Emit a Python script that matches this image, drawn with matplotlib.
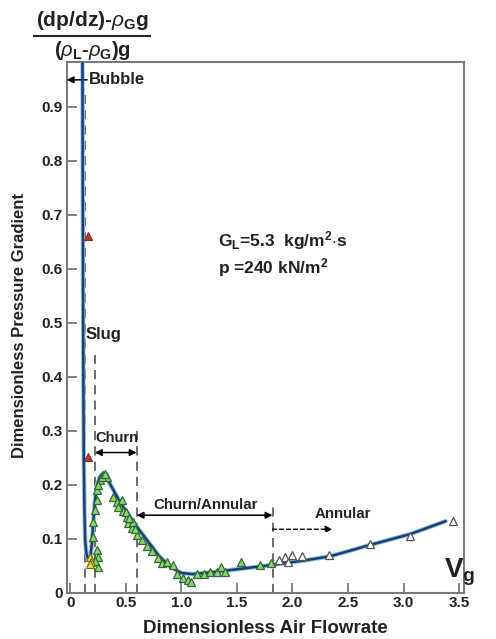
import matplotlib
matplotlib.use("Agg")
import matplotlib.pyplot as plt
import numpy as np

plt.rcParams['font.family'] = ['Liberation Sans', 'DejaVu Sans']
plt.rcParams['mathtext.fontset'] = 'custom'
plt.rcParams['mathtext.rm'] = 'Liberation Sans'
plt.rcParams['mathtext.bf'] = 'Liberation Sans:bold'
plt.rcParams['mathtext.it'] = 'Liberation Sans:italic'

# ---- data ----
curve_x = [0.108, 0.110, 0.113, 0.116, 0.120, 0.126, 0.132, 0.140, 0.152, 0.165, 0.180,
           0.192, 0.205, 0.220, 0.240, 0.265, 0.295, 0.340, 0.450, 0.600, 0.700, 0.800, 0.900,
           1.000, 1.100, 1.300, 1.500, 1.820, 2.100, 2.340, 2.700, 3.060, 3.380]
curve_y = [1.000, 0.800, 0.600, 0.400, 0.250, 0.150, 0.100, 0.078, 0.066, 0.063, 0.068,
           0.090, 0.130, 0.170, 0.200, 0.215, 0.222, 0.208, 0.167, 0.122, 0.095, 0.068, 0.048,
           0.037, 0.035, 0.039, 0.044, 0.052, 0.060, 0.068, 0.089, 0.109, 0.133]

green_x = [0.236, 0.250, 0.250, 0.205, 0.205, 0.220, 0.236, 0.236, 0.266, 0.296, 0.326, 0.386,
           0.416, 0.460, 0.476, 0.506, 0.520, 0.550, 0.566, 0.596, 0.640, 0.686, 0.730, 0.790,
           0.820, 0.926, 0.957, 1.016, 1.060, 1.090, 1.137, 1.200, 1.257, 1.317, 1.360, 1.390,
           1.540, 1.710, 1.810, 0.245, 0.280, 0.310, 0.430, 0.500, 0.530, 0.580, 0.225, 0.870]
green_y = [0.080, 0.067, 0.049, 0.104, 0.132, 0.154, 0.172, 0.190, 0.209, 0.218, 0.215, 0.178,
           0.169, 0.172, 0.151, 0.141, 0.129, 0.120, 0.132, 0.107, 0.098, 0.087, 0.077, 0.064,
           0.055, 0.052, 0.036, 0.027, 0.024, 0.021, 0.036, 0.036, 0.039, 0.039, 0.049, 0.039,
           0.058, 0.052, 0.055, 0.200, 0.214, 0.220, 0.160, 0.150, 0.138, 0.118, 0.060, 0.058]

open_x = [1.880, 1.930, 1.960, 2.000, 2.090, 2.330, 2.700, 3.060, 3.450]
open_y = [0.061, 0.066, 0.058, 0.070, 0.068, 0.070, 0.090, 0.106, 0.133]

red_x = [0.160, 0.160]
red_y = [0.660, 0.252]

yellow_x = [0.180, 0.185, 0.180]
yellow_y = [0.067, 0.058, 0.054]

xticks = [0, 0.5, 1.0, 1.5, 2.0, 2.5, 3.0, 3.5]
xticklabels = ['0', '0.5', '1.0', '1.5', '2.0', '2.5', '3.0', '3.5']
yticks = [0, 0.1, 0.2, 0.3, 0.4, 0.5, 0.6, 0.7, 0.8, 0.9]
yticklabels = ['0', '0.1', '0.2', '0.3', '0.4', '0.5', '0.6', '0.7', '0.8', '0.9']

# ---- figure ----
W, H = 496, 639
fig = plt.figure(figsize=(W / 100, H / 100), dpi=100)
ax = fig.add_axes([66.7 / W, 1 - 593 / H, (464 - 66.7) / W, (593 - 62) / H])
ax.set_xlim(-0.034, 3.545)
ax.set_ylim(0, 0.983)

gray = '#7a7a7a'
for s in ax.spines.values():
    s.set_color(gray)
    s.set_linewidth(1.5)

ax.set_xticks(xticks)
ax.set_xticklabels(xticklabels)
ax.set_yticks(yticks)
ax.set_yticklabels(yticklabels)
ax.tick_params(direction='in', length=7, width=1.3, color=gray, pad=3,
               labelsize=11, labelcolor='#222222')
ax.tick_params(axis='x', pad=2)
for lab in ax.get_xticklabels() + ax.get_yticklabels():
    lab.set_fontweight('bold')

ax.set_xlabel('Dimensionless Air Flowrate', fontsize=13.5, fontweight='bold',
              color='#222222')
ax.xaxis.set_label_coords(0.5, -(620 - 593) / (593 - 62), transform=ax.transAxes)
ax.set_ylabel('Dimensionless Pressure Gradient', fontsize=12, fontweight='bold',
              color='#222222')
ax.yaxis.set_label_coords(-(66.7 - 27) / (464 - 66.7), (593 - 326) / (593 - 62),
                          transform=ax.transAxes)

# curve
ax.plot(curve_x, curve_y, color='#8fc3e8', lw=3.2, zorder=3, solid_capstyle='round')
ax.plot(curve_x, curve_y, color='#1d3d70', lw=1.8, zorder=4, solid_capstyle='round')

# markers
ax.plot(green_x, green_y, linestyle='none', marker='^', ms=5.5, mfc='#8fd46a',
        mec='#2f6b3a', mew=0.9, zorder=5)
ax.plot(open_x, open_y, linestyle='none', marker='^', ms=5.5, mfc='white',
        mec='#555555', mew=0.9, zorder=5)
ax.plot(red_x, red_y, linestyle='none', marker='^', ms=5.5, mfc='#b03a30',
        mec='#8a2a25', mew=0.8, zorder=5)
ax.plot(yellow_x, yellow_y, linestyle='none', marker='^', ms=5.5, mfc='#e8d838',
        mec='#6a6a20', mew=0.8, zorder=5)

# dashed regime boundaries
dash = dict(color='#444444', lw=1.1, linestyles=(0, (6, 4)), zorder=2)
ax.vlines(0.135, 0, 0.93, **dash)
ax.vlines(0.22, 0, 0.44, **dash)
ax.vlines(0.596, 0, 0.30, **dash)
ax.vlines(1.82, 0, 0.168, **dash)

# arrows
ax.annotate('', xy=(-0.034, 0.95), xytext=(0.15, 0.95),
            arrowprops=dict(arrowstyle='-|>', color='black', lw=1.1,
                            mutation_scale=10, shrinkA=0, shrinkB=0))
ax.annotate('', xy=(0.22, 0.26), xytext=(0.596, 0.26),
            arrowprops=dict(arrowstyle='<|-|>', color='black', lw=1.1,
                            mutation_scale=10, shrinkA=0, shrinkB=0))
ax.annotate('', xy=(0.596, 0.144), xytext=(1.82, 0.144),
            arrowprops=dict(arrowstyle='<|-|>', color='black', lw=1.1,
                            mutation_scale=10, shrinkA=0, shrinkB=0))
ax.annotate('', xy=(2.36, 0.118), xytext=(1.82, 0.118),
            arrowprops=dict(arrowstyle='-|>', color='black', lw=1.0, linestyle=(0, (3, 2)),
                            mutation_scale=10, shrinkA=0, shrinkB=0))

tb = dict(fontweight='bold', color='#222222')
ax.text(0.17, 0.95, 'Bubble', fontsize=12, ha='left', va='center', **tb)
ax.text(0.14, 0.478, 'Slug', fontsize=12, ha='left', va='center', **tb)
ax.text(0.225, 0.287, 'Churn', fontsize=10.5, ha='left', va='center', **tb)
ax.text(1.22, 0.162, 'Churn/Annular', fontsize=10.8, ha='center', va='center', **tb)
ax.text(2.45, 0.146, 'Annular', fontsize=10.8, ha='center', va='center', **tb)

ax.text(1.33, 0.652, r'G$_\mathregular{L}$=5.3  kg/m$^\mathbf{2}$$\cdot$s', fontsize=12.5,
        ha='left', va='center', **tb)
ax.text(1.33, 0.602, r'p =240 kN/m$^\mathbf{2}$', fontsize=12.5,
        ha='left', va='center', **tb)

# top-left fraction label
fig.text(92 / W, 1 - 21 / H, r'(dp/dz)-$\rho_\mathbf{G}$g', fontsize=15, ha='center',
         va='center', **tb)
fig.text(92 / W, 1 - 50 / H, r'($\rho_\mathbf{L}$-$\rho_\mathbf{G}$)g', fontsize=14.5,
         ha='center', va='center', **tb)
fig.add_artist(plt.Line2D([34 / W, 150 / W], [1 - 36 / H, 1 - 36 / H],
                          color='#222222', lw=1.5))

# V_g label at right
fig.text(444 / W, 1 - 572 / H, r'V$_\mathbf{g}$', fontsize=20, ha='left', va='center', **tb)

fig.savefig('out.png', dpi=100)
